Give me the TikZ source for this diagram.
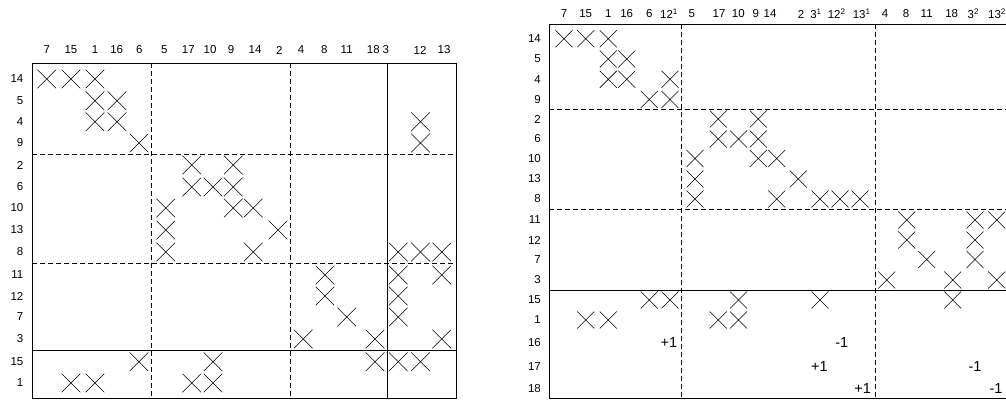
\documentclass[tikz,border=0pt]{standalone}
\usepackage{fontspec}
\setmainfont{Liberation Sans}
\usetikzlibrary{calc}
\begin{document}
\begin{tikzpicture}[x=1pt,y=-1pt,
  lab/.style={inner sep=0pt,font=\fontsize{11.5}{13}\selectfont},
  val/.style={inner sep=0pt,font=\fontsize{14.5}{16}\selectfont},
  xline/.style={line width=0.55pt},
  frame/.style={line width=0.8pt},
  dline/.style={line width=0.7pt,dash pattern=on 5pt off 3pt},
  pics/xmark/.style={code={\draw[xline] (-#1,-#1) -- (#1,#1) (-#1,#1) -- (#1,-#1);}}]
\useasboundingbox (0,0) rectangle (1006,400);
\clip (0,0) rectangle (1006,400);

% ================= LEFT MATRIX =================
\coordinate (L-nw) at (32,63);
\coordinate (L-se) at (456.7,398);
\coordinate (L-v1) at (151.5,0);
\coordinate (L-v2) at (290.5,0);
\coordinate (L-v3) at (387.7,0);
\coordinate (L-h1) at (0,154);
\coordinate (L-h2) at (0,263.5);
\coordinate (L-h3) at (0,350.3);

\foreach \n/\x in {7/46.7,15/71,1/95,16/117,6/139,5/165.7,17/191.7,10/213,9/233.3,14/253.3,2/278,4/303.3,8/325,11/346.7,18/375,3/398.3,12/420.5,13/441.7}
  \coordinate (L-c\n) at (\x,0);
\foreach \n/\y in {14/79,5/100.7,4/121.7,9/143,2/165,6/187,10/208,13/230,8/252,11/275,12/296,7/317,3/339,15/361.7,1/383}
  \coordinate (L-r\n) at (0,\y);

% column labels
\foreach \n/\x in {7/46.7,15/71,1/95,16/116.7,6/139.3,5/164.3,17/188.3,10/210,9/231,14/255,2/279.3,4/301,8/324.3,11/346.7,18/373.3,3/385.7,12/420,13/444}
  \node[lab] (L-lab-c\n) at (\x,50) {\n};
% row labels
\foreach \n in {14,5,4,9,2,6,10,13,8,11,12,7,3,15,1}
  \node[lab,anchor=east] (L-lab-r\n) at ($(L-r\n)+(23.5,0)$) {\n};

\draw[frame] (L-nw) rectangle (L-se);
\draw[dline] (L-v1 |- L-nw) -- (L-v1 |- L-se);
\draw[dline] (L-v2 |- L-nw) -- (L-v2 |- L-se);
\draw[frame] (L-v3 |- L-nw) -- (L-v3 |- L-se);
\draw[dline] (L-nw |- L-h1) -- (L-se |- L-h1);
\draw[dline] (L-nw |- L-h2) -- (L-se |- L-h2);
\draw[frame] (L-nw |- L-h3) -- (L-se |- L-h3);

\foreach \c/\r in {7/14,15/14,1/14, 1/5,16/5, 1/4,16/4,12/4, 6/9,12/9,
  17/2,9/2, 17/6,10/6,9/6, 5/10,9/10,14/10, 5/13,2/13, 5/8,14/8,3/8,12/8,13/8,
  8/11,3/11,13/11, 8/12,3/12, 11/7,3/7, 4/3,18/3,13/3,
  6/15,10/15,18/15,3/15,12/15, 15/1,1/1,17/1,10/1}
  \pic at (L-c\c |- L-r\r) {xmark=9.3};

% ================= RIGHT MATRIX =================
\coordinate (R-nw) at (549.3,24);
\coordinate (R-se) at (1015,398.3);
\coordinate (R-v1) at (681.7,0);
\coordinate (R-v2) at (875,0);
\coordinate (R-h1) at (0,109);
\coordinate (R-h2) at (0,209.3);
\coordinate (R-h3) at (0,290);

\foreach \n/\x in {7/564,15/585.7,1/608.3,16/626.7,6/649.3,12a/670,5/695,17/718.3,10/738.5,9/758.3,14/776.7,2/798.3,3a/820,12b/840,13a/860,4/886.7,8/906.7,11/926.7,18/952.7,3b/975,13b/996.7}
  \coordinate (R-c\n) at (\x,0);
\foreach \n/\y in {14/38.7,5/59,4/79.3,9/99.5,2/119,6/139,10/158.5,13/179,8/199,11/220,12/240,7/259.5,3/280,15/300,1/320,16/343,17/366.5,18/389}
  \coordinate (R-r\n) at (0,\y);

% column labels
\foreach \n/\x/\t in {7/564/7,15/585.7/15,1/608.3/1,16/626.7/16,6/649.3/6,12a/669/{12\textsuperscript{1}},5/691.7/5,17/719/17,10/738.3/10,9/755.7/9,14/770/14,2/801/2,3a/816/{3\textsuperscript{1}},12b/836.7/{12\textsuperscript{2}},13a/861.7/{13\textsuperscript{1}},4/885/4,8/906/8,11/926.7/11,18/951.7/18,3b/973.3/{3\textsuperscript{2}},13b/997/{13\textsuperscript{2}}}
  \node[lab] (R-lab-c\n) at (\x,14) {\t};
% row labels
\foreach \n in {14,5,4,9,2,6,10,13,8,11,12,7,3,15,1,16,17,18}
  \node[lab,anchor=east] (R-lab-r\n) at ($(R-r\n)+(541,0)$) {\n};

\draw[frame] (R-nw) rectangle (R-se);
\draw[dline] (R-v1 |- R-nw) -- (R-v1 |- R-se);
\draw[dline] (R-v2 |- R-nw) -- (R-v2 |- R-se);
\draw[dline] (R-nw |- R-h1) -- (R-se |- R-h1);
\draw[dline] (R-nw |- R-h2) -- (R-se |- R-h2);
\draw[frame] (R-nw |- R-h3) -- (R-se |- R-h3);

\foreach \c/\r in {7/14,15/14,1/14, 1/5,16/5, 1/4,16/4,12a/4, 6/9,12a/9,
  17/2,9/2, 17/6,10/6,9/6, 5/10,9/10,14/10, 5/13,2/13, 5/8,14/8,3a/8,12b/8,13a/8,
  8/11,3b/11,13b/11, 8/12,3b/12, 11/7,3b/7, 4/3,18/3,13b/3,
  6/15,12a/15,10/15,3a/15,18/15, 15/1,1/1,17/1,10/1}
  \pic at (R-c\c |- R-r\r) {xmark=8.5};

% +1 / -1 entries
\node[val] (R-p16) at (669,343) {+1};
\node[val] (R-m16) at (841.7,343) {-1};
\node[val] (R-p17) at (819.3,366.5) {+1};
\node[val] (R-m17) at (975,366.5) {-1};
\node[val] (R-p18) at (862.7,389) {+1};
\node[val] (R-m18) at (996,389) {-1};
\end{tikzpicture}
\end{document}
